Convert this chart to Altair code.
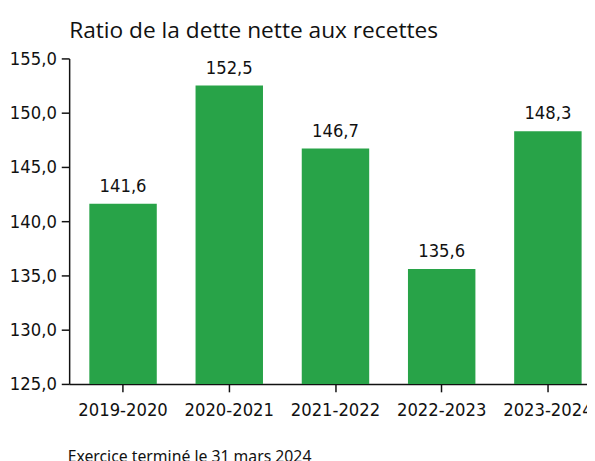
import altair as alt
import pandas as pd

categories = ["2019-2020", "2020-2021", "2021-2022", "2022-2023", "2023-2024"]
values = [141.6, 152.5, 146.7, 135.6, 148.3]
y_ticks = [125, 130, 135, 140, 145, 150, 155]
title_text = "Ratio de la dette nette aux recettes"
footer_text = "Exercice terminé le 31 mars 2024"

labels = [f"{v:.1f}".replace(".", ",") for v in values]
df = pd.DataFrame({"exercice": categories, "ratio": values, "label": labels})

NARROW = "'DejaVu Sans Condensed', 'Noto Sans', sans-serif"
NSIZE = 18.5
GREEN = "#28a348"
INK = "#111111"

x_enc = alt.X(
    "exercice:N",
    sort=categories,
    scale=alt.Scale(range=[0, 540], paddingInner=0.365, paddingOuter=0.19),
    axis=alt.Axis(
        title=footer_text,
        labelAngle=0,
        labelFont=NARROW,
        labelFontSize=NSIZE,
        labelColor=INK,
        labelPadding=9,
        tickSize=8,
        tickWidth=1.5,
        tickColor=INK,
        domainColor=INK,
        domainWidth=1.5,
        titleFont="Noto Sans",
        titleFontSize=16,
        titleFontWeight="normal",
        titleColor=INK,
        titleAnchor="start",
        titleAlign="left",
        titleBaseline="alphabetic",
        titleX=-2,
        titleY=79,
    ),
)

y_enc = alt.Y(
    "ratio:Q",
    scale=alt.Scale(domain=[125, 155], nice=False, zero=False),
    axis=alt.Axis(
        title=None,
        values=y_ticks,
        grid=False,
        labelExpr="replace(format(datum.value, '.1f'), '.', ',')",
        labelFont=NARROW,
        labelFontSize=NSIZE,
        labelColor=INK,
        labelPadding=5,
        tickSize=8,
        tickWidth=1.5,
        tickColor=INK,
        domainColor=INK,
        domainWidth=1.5,
    ),
)

base = alt.Chart(df)

bars = base.mark_bar(color=GREEN, clip=True).encode(
    x=x_enc,
    y=y_enc,
    y2=alt.datum(125),
)

text = base.mark_text(
    baseline="alphabetic",
    dy=-12,
    font=NARROW,
    fontSize=NSIZE,
    color=INK,
).encode(
    x=alt.X("exercice:N", sort=categories),
    y=alt.Y("ratio:Q"),
    text="label:N",
)

chart = (
    alt.layer(bars, text)
    .properties(
        width=525,
        height=330,
        title=alt.TitleParams(
            text=title_text,
            font="Open Sans",
            fontSize=23,
            fontWeight="normal",
            color=INK,
            anchor="start",
            frame="group",
            baseline="alphabetic",
            offset=12,
            dy=23,
        ),
        autosize=alt.AutoSizeParams(type="none"),
        padding={"left": 62, "top": 48, "right": 0, "bottom": 75},
    )
    .configure_view(stroke=None)
)

chart.save("out.html", embed_options={"renderer": "svg", "actions": False})
